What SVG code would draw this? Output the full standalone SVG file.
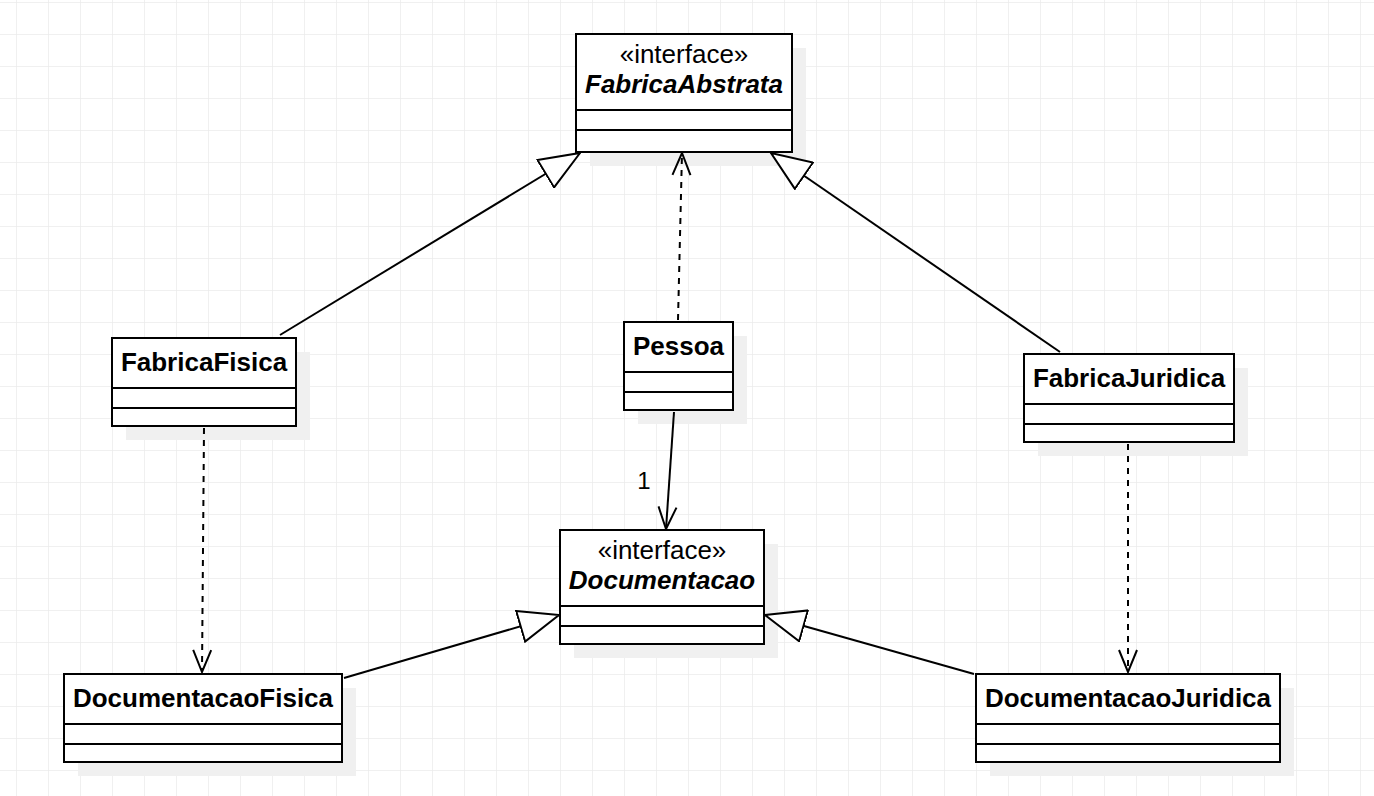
<svg xmlns="http://www.w3.org/2000/svg" width="1374" height="796" viewBox="0 0 1374 796">
<defs>
<pattern id="grid" x="16" y="2" width="32" height="32" patternUnits="userSpaceOnUse">
<path d="M0 0H32M0 0V32" fill="none" stroke="#ebebeb" stroke-width="1.5"/>
</pattern>
<marker id="tri" viewBox="0 0 42 34" refX="41" refY="17" markerWidth="42" markerHeight="34" markerUnits="userSpaceOnUse" orient="auto">
<path d="M1 1L41 17L1 33Z" fill="#fff" stroke="#000" stroke-width="2"/>
</marker>
<marker id="open" viewBox="0 0 24 22" refX="23" refY="11" markerWidth="24" markerHeight="22" markerUnits="userSpaceOnUse" orient="auto">
<path d="M1 2L23 11L1 20" fill="none" stroke="#000" stroke-width="2"/>
</marker>
</defs>
<style>
.sh{fill:#f0f0f0}
.bx{fill:#fff;stroke:#000;stroke-width:2}
.dv{stroke:#000;stroke-width:2}
.t{font-family:"Liberation Sans",Arial,sans-serif;font-size:26px;text-anchor:middle;fill:#000}
.b{font-weight:bold}
.bi{font-weight:bold;font-style:italic}
.ln{fill:none;stroke:#000;stroke-width:2}
.ds{stroke-dasharray:6 6}
</style>
<rect width="1374" height="796" fill="#fff"/>
<rect width="1374" height="796" fill="url(#grid)"/>

<g id="FabricaAbstrata">
<rect class="sh" x="590" y="48" width="216" height="118"/>
<rect class="bx" x="576" y="34" width="216" height="118"/>
<line class="dv" x1="576" y1="110" x2="792" y2="110"/>
<line class="dv" x1="576" y1="130" x2="792" y2="130"/>
<text class="t" x="684" y="63">«interface»</text>
<text class="t bi" x="684" y="93">FabricaAbstrata</text>
</g>

<g id="FabricaFisica">
<rect class="sh" x="126" y="352" width="184" height="88"/>
<rect class="bx" x="112" y="338" width="184" height="88"/>
<line class="dv" x1="112" y1="388" x2="296" y2="388"/>
<line class="dv" x1="112" y1="408" x2="296" y2="408"/>
<text class="t b" x="204" y="371">FabricaFisica</text>
</g>

<g id="Pessoa">
<rect class="sh" x="638" y="336" width="109" height="88"/>
<rect class="bx" x="624" y="322" width="109" height="88"/>
<line class="dv" x1="624" y1="372" x2="733" y2="372"/>
<line class="dv" x1="624" y1="392" x2="733" y2="392"/>
<text class="t b" x="678.5" y="355">Pessoa</text>
</g>

<g id="FabricaJuridica">
<rect class="sh" x="1038" y="368" width="210" height="88"/>
<rect class="bx" x="1024" y="354" width="210" height="88"/>
<line class="dv" x1="1024" y1="404" x2="1234" y2="404"/>
<line class="dv" x1="1024" y1="424" x2="1234" y2="424"/>
<text class="t b" x="1129" y="387">FabricaJuridica</text>
</g>

<g id="Documentacao">
<rect class="sh" x="574" y="544" width="204" height="114"/>
<rect class="bx" x="560" y="530" width="204" height="114"/>
<line class="dv" x1="560" y1="606" x2="764" y2="606"/>
<line class="dv" x1="560" y1="626" x2="764" y2="626"/>
<text class="t" x="662" y="559">«interface»</text>
<text class="t bi" x="662" y="589">Documentacao</text>
</g>

<g id="DocumentacaoFisica">
<rect class="sh" x="78" y="688" width="278" height="88"/>
<rect class="bx" x="64" y="674" width="278" height="88"/>
<line class="dv" x1="64" y1="724" x2="342" y2="724"/>
<line class="dv" x1="64" y1="744" x2="342" y2="744"/>
<text class="t b" x="203" y="707">DocumentacaoFisica</text>
</g>

<g id="DocumentacaoJuridica">
<rect class="sh" x="990" y="688" width="304" height="88"/>
<rect class="bx" x="976" y="674" width="304" height="88"/>
<line class="dv" x1="976" y1="724" x2="1280" y2="724"/>
<line class="dv" x1="976" y1="744" x2="1280" y2="744"/>
<text class="t b" x="1128" y="707">DocumentacaoJuridica</text>
</g>

<g id="connectors">
<path class="ln" d="M280 335L580 153" marker-end="url(#tri)"/>
<path class="ln" d="M1060 352L771 153" marker-end="url(#tri)"/>
<path class="ln ds" d="M678 320L682 153" marker-end="url(#open)"/>
<path class="ln" d="M674 412L666 529" marker-end="url(#open)"/>
<text class="t" x="644" y="489" style="font-size:24px">1</text>
<path class="ln ds" d="M204 428L202 672" marker-end="url(#open)"/>
<path class="ln ds" d="M1128 444L1128 672" marker-end="url(#open)"/>
<path class="ln" d="M344 678L559 615" marker-end="url(#tri)"/>
<path class="ln" d="M974 674L765 615" marker-end="url(#tri)"/>
</g>
</svg>
